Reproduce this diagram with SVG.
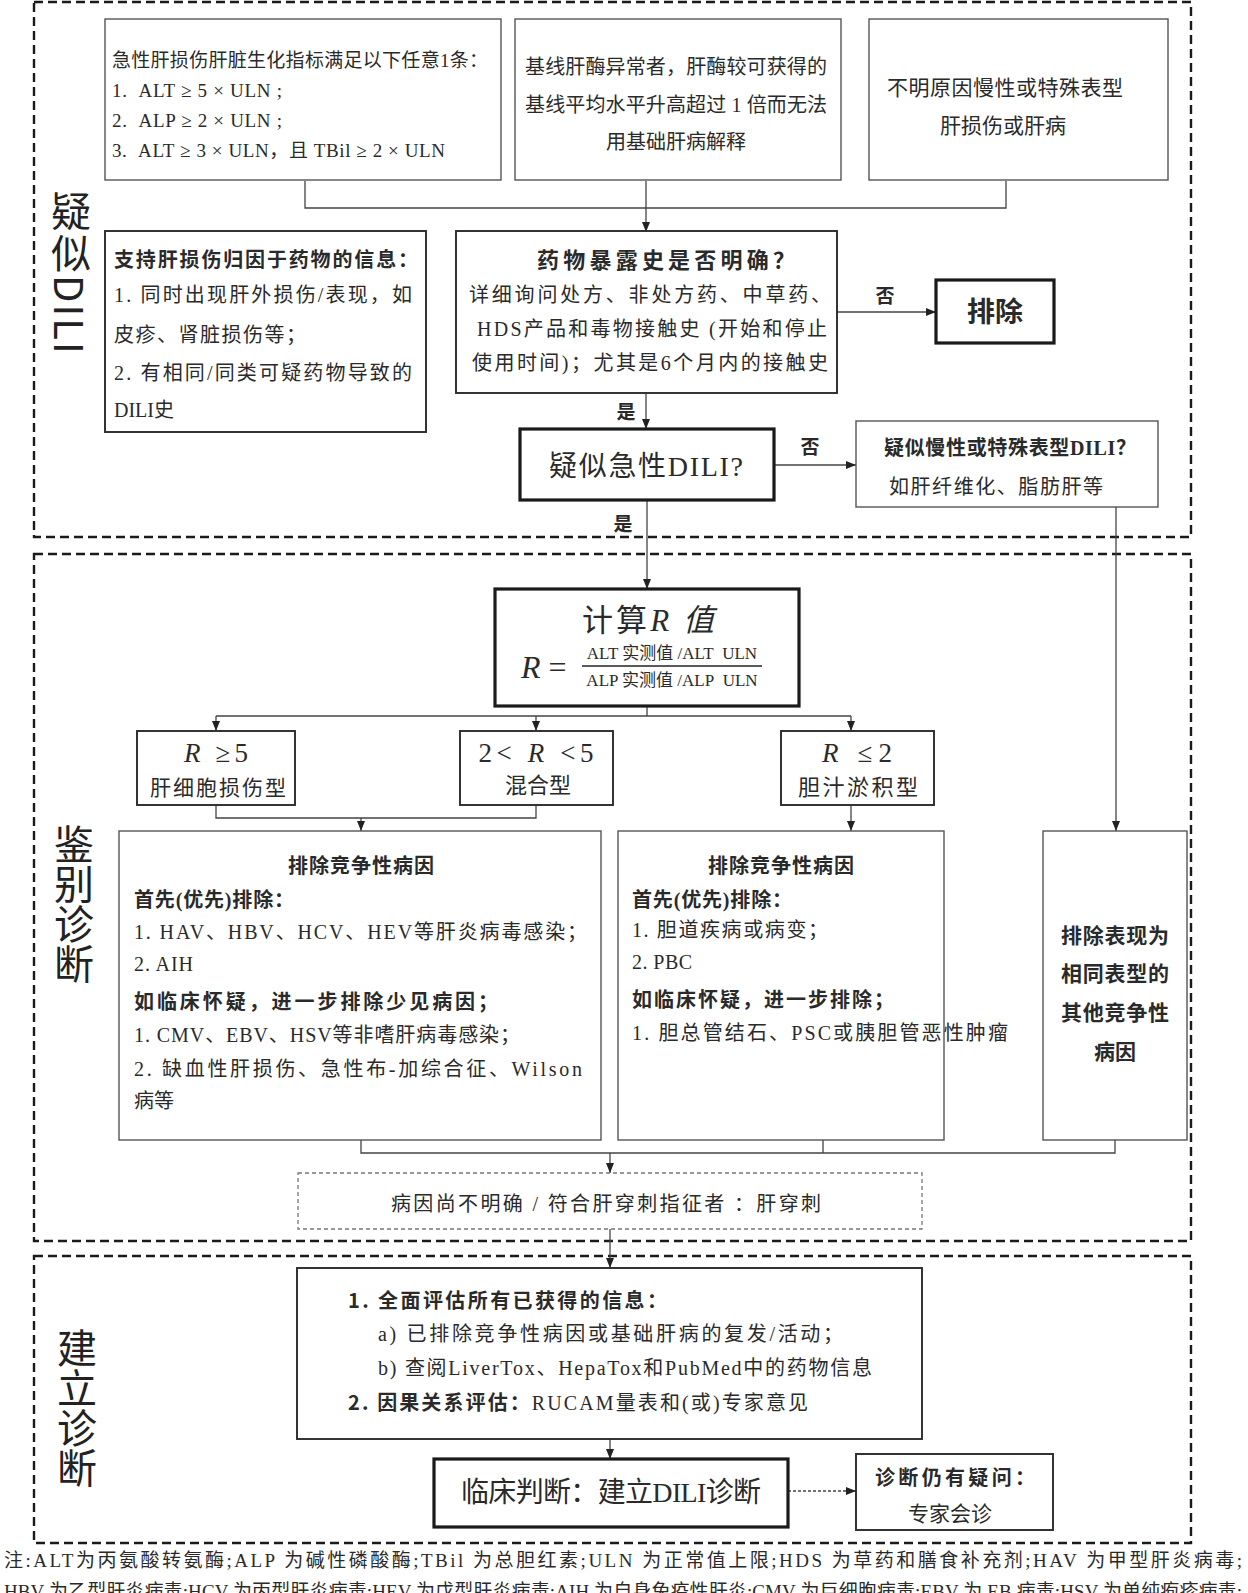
<svg xmlns="http://www.w3.org/2000/svg" width="1248" height="1593" viewBox="0 0 1248 1593" font-size="20">
<defs>
<style>
.sec{fill:none;stroke:#1a1a1a;stroke-width:2.4;stroke-dasharray:9 5}
.bx{fill:#fff;stroke:#555;stroke-width:1.4}
.bx2{fill:#fff;stroke:#2a2a2a;stroke-width:1.9}
.tk{fill:#fff;stroke:#1a1a1a;stroke-width:3.2}
.dbx{fill:#fff;stroke:#777;stroke-width:1.3;stroke-dasharray:4 3}
.ln{fill:none;stroke:#444;stroke-width:1.3}
.t{font-family:"Liberation Serif","Noto Sans CJK SC",serif;fill:#2a2a2a}
.s{font-family:"Noto Sans CJK SC","Liberation Sans",sans-serif}
.b{font-weight:bold}
.m{text-anchor:middle}
.i{font-style:italic}
.v{font-family:"Noto Sans CJK SC","Liberation Sans",sans-serif;font-size:40px;writing-mode:vertical-rl;fill:#222}
</style>
<marker id="ah" markerWidth="10" markerHeight="8" refX="10" refY="4" orient="auto" markerUnits="userSpaceOnUse">
<path d="M0,0 L10,4 L0,8 z" fill="#222"/>
</marker>
</defs>
<rect width="1248" height="1593" fill="#fff"/>

<g id="sections">
<rect class="sec" x="34" y="2" width="1157" height="535"/>
<rect class="sec" x="34" y="554" width="1157" height="687"/>
<rect class="sec" x="34" y="1256" width="1157" height="287"/>
<text class="v" x="71" y="191" letter-spacing="2">疑似DILI</text>
<text class="v" x="74" y="824">鉴别诊断</text>
<text class="v" x="77" y="1328">建立诊断</text>
</g>

<g id="connectors">
<path class="ln" d="M305,181 V208 H1006 V181"/>
<path class="ln" d="M646,181 V232" marker-end="url(#ah)"/>
<path class="ln" d="M837,312 H936" marker-end="url(#ah)"/>
<path class="ln" d="M646,393 V429" marker-end="url(#ah)"/>
<path class="ln" d="M774,465 H856" marker-end="url(#ah)"/>
<path class="ln" d="M647,500 V589" marker-end="url(#ah)"/>
<path class="ln" d="M1116,507 V831" marker-end="url(#ah)"/>
<path class="ln" d="M647,706 V716 M216,716 H851"/>
<path class="ln" d="M216,716 V731" marker-end="url(#ah)"/>
<path class="ln" d="M536,716 V731" marker-end="url(#ah)"/>
<path class="ln" d="M851,716 V731" marker-end="url(#ah)"/>
<path class="ln" d="M216,805 V818 H536 V805"/>
<path class="ln" d="M361,818 V831" marker-end="url(#ah)"/>
<path class="ln" d="M851,805 V831" marker-end="url(#ah)"/>
<path class="ln" d="M361,1140 V1153 H1115 V1140 M823,1140 V1153"/>
<path class="ln" d="M610,1153 V1173" marker-end="url(#ah)"/>
<path class="ln" d="M610,1229 V1268" marker-end="url(#ah)"/>
<path class="ln" d="M610,1439 V1459" marker-end="url(#ah)"/>
<path class="ln" d="M788,1491 H856" stroke-dasharray="3 2" marker-end="url(#ah)"/>
<text class="t b m" x="885" y="303" font-size="19">否</text>
<text class="t b m" x="626" y="419" font-size="19">是</text>
<text class="t b m" x="810" y="454" font-size="19">否</text>
<text class="t b m" x="623" y="531" font-size="19">是</text>
</g>

<g id="nodeA">
<rect class="bx" x="105" y="19" width="396" height="161"/>
<text class="t" x="112" y="67" font-size="19" textLength="376">急性肝损伤肝脏生化指标满足以下任意1条：</text>
<text class="t" x="112" y="97" font-size="19" textLength="170">1.&#160;&#160;ALT ≥ 5 × ULN ;</text>
<text class="t" x="112" y="127" font-size="19" textLength="170">2.&#160;&#160;ALP ≥ 2 × ULN ;</text>
<text class="t" x="112" y="157" font-size="19" textLength="333">3.&#160;&#160;ALT ≥ 3 × ULN，且 TBil ≥ 2 × ULN</text>
</g>

<g id="nodeB">
<rect class="bx" x="515" y="19" width="326" height="161"/>
<text class="t m" x="676" y="74" textLength="302">基线肝酶异常者，肝酶较可获得的</text>
<text class="t m" x="676" y="112" textLength="302">基线平均水平升高超过 1 倍而无法</text>
<text class="t m" x="676" y="149">用基础肝病解释</text>
</g>

<g id="nodeC">
<rect class="bx" x="869" y="19" width="299" height="161"/>
<text class="t m" x="1005" y="95" font-size="21" textLength="236">不明原因慢性或特殊表型</text>
<text class="t m" x="1003" y="133" font-size="21">肝损伤或肝病</text>
</g>

<g id="nodeD">
<rect class="bx2" x="105" y="231" width="321" height="201"/>
<text class="t b" x="114" y="267" textLength="304">支持肝损伤归因于药物的信息：</text>
<text class="t" x="114" y="302" textLength="298">1. 同时出现肝外损伤/表现，如</text>
<text class="t" x="114" y="342" textLength="192">皮疹、肾脏损伤等；</text>
<text class="t" x="114" y="380" textLength="298">2. 有相同/同类可疑药物导致的</text>
<text class="t" x="114" y="417">DILI史</text>
</g>

<g id="nodeE">
<rect class="bx2" x="456" y="231" width="381" height="162"/>
<text class="t b m" x="666" y="268" font-size="22" textLength="258">药物暴露史是否明确？</text>
<text class="t m" x="650" y="302" textLength="362">详细询问处方、非处方药、中草药、</text>
<text class="t m" x="652" y="336" textLength="350">HDS产品和毒物接触史 (开始和停止</text>
<text class="t m" x="650" y="370" textLength="356">使用时间)；尤其是6个月内的接触史</text>
</g>

<g id="nodeExclude">
<rect class="tk" x="936" y="280" width="118" height="63"/>
<text class="t b m" x="995" y="322" font-size="28">排除</text>
</g>

<g id="nodeAcute">
<rect class="tk" x="520" y="429" width="254" height="71"/>
<text class="t m" x="646" y="476" font-size="28" textLength="194">疑似急性DILI?</text>
</g>

<g id="nodeF">
<rect class="bx" x="856" y="421" width="302" height="86"/>
<text class="t b m" x="1010" y="455" font-size="20" textLength="252">疑似慢性或特殊表型DILI？</text>
<text class="t m" x="996" y="494" font-size="20" textLength="214">如肝纤维化、脂肪肝等</text>
</g>

<g id="nodeR">
<rect class="tk" x="495" y="589" width="304" height="117"/>
<text class="t m" x="648" y="631" font-size="31" textLength="132">计算<tspan class="i">R 值</tspan></text>
<text class="t" x="521" y="678" font-size="32"><tspan class="i">R</tspan> =</text>
<text class="t m" x="672" y="659" font-size="17">ALT 实测值 /ALT&#160;&#160;ULN</text>
<line x1="582" y1="666" x2="762" y2="666" stroke="#222" stroke-width="1.6"/>
<text class="t m" x="672" y="686" font-size="17">ALP 实测值 /ALP&#160;&#160;ULN</text>
</g>

<g id="nodeR1">
<rect class="bx2" x="137" y="731" width="158" height="74" stroke-width="2.4"/>
<text class="t m" x="216" y="762" font-size="27" textLength="64"><tspan class="i">R</tspan> ≥5</text>
<text class="t m" x="218" y="795" font-size="21" textLength="136">肝细胞损伤型</text>
</g>

<g id="nodeR2">
<rect class="bx2" x="460" y="731" width="153" height="74" stroke-width="2.4"/>
<text class="t m" x="536" y="762" font-size="27" textLength="115">2&lt; <tspan class="i">R</tspan> &lt;5</text>
<text class="t m" x="538" y="793" font-size="22">混合型</text>
</g>

<g id="nodeR3">
<rect class="bx2" x="781" y="731" width="153" height="74" stroke-width="2.4"/>
<text class="t m" x="857" y="762" font-size="27" textLength="70"><tspan class="i">R</tspan> ≤2</text>
<text class="t m" x="858" y="795" font-size="22" textLength="120">胆汁淤积型</text>
</g>

<g id="nodeG">
<rect class="bx" x="119" y="831" width="482" height="309"/>
<text class="t b m" x="361" y="873" textLength="146">排除竞争性病因</text>
<text class="t b" x="134" y="907" textLength="160">首先(优先)排除：</text>
<text class="t" x="134" y="939" textLength="453">1. HAV、HBV、HCV、HEV等肝炎病毒感染；</text>
<text class="t" x="134" y="971" textLength="59">2. AIH</text>
<text class="t b" x="134" y="1009" textLength="364">如临床怀疑，进一步排除少见病因；</text>
<text class="t" x="134" y="1042" textLength="386">1. CMV、EBV、HSV等非嗜肝病毒感染；</text>
<text class="t" x="134" y="1076" textLength="448">2. 缺血性肝损伤、急性布-加综合征、Wilson</text>
<text class="t" x="134" y="1108">病等</text>
</g>

<g id="nodeH">
<rect class="bx" x="618" y="831" width="326" height="309"/>
<text class="t b m" x="781" y="873" textLength="146">排除竞争性病因</text>
<text class="t b" x="632" y="907" textLength="160">首先(优先)排除：</text>
<text class="t" x="632" y="937" textLength="196">1. 胆道疾病或病变；</text>
<text class="t" x="632" y="969" textLength="60">2. PBC</text>
<text class="t b" x="632" y="1007" textLength="262">如临床怀疑，进一步排除；</text>
<text class="t" x="632" y="1040" textLength="376">1. 胆总管结石、PSC或胰胆管恶性肿瘤</text>
</g>

<g id="nodeI">
<rect class="bx" x="1043" y="831" width="144" height="309"/>
<text class="t b m" x="1115" y="943" font-size="21" textLength="108">排除表现为</text>
<text class="t b m" x="1115" y="981" font-size="21" textLength="108">相同表型的</text>
<text class="t b m" x="1115" y="1020" font-size="21" textLength="108">其他竞争性</text>
<text class="t b m" x="1115" y="1059" font-size="21">病因</text>
</g>

<g id="nodeJ">
<rect class="dbx" x="298" y="1173" width="624" height="56"/>
<text class="t m" x="606" y="1211" textLength="430">病因尚不明确 / 符合肝穿刺指征者 ：肝穿刺</text>
</g>

<g id="nodeK">
<rect class="bx2" x="297" y="1268" width="625" height="171"/>
<text class="t s b" x="348" y="1308" textLength="319">1. 全面评估所有已获得的信息：</text>
<text class="t" x="378" y="1341" textLength="465">a) 已排除竞争性病因或基础肝病的复发/活动；</text>
<text class="t" x="378" y="1375" textLength="494">b) 查阅LiverTox、HepaTox和PubMed中的药物信息</text>
<text class="t" x="348" y="1410" textLength="460"><tspan class="s b">2. 因果关系评估：</tspan>RUCAM量表和(或)专家意见</text>
</g>

<g id="nodeL">
<rect class="tk" x="434" y="1459" width="354" height="68"/>
<text class="t m" x="611" y="1502" font-size="28" textLength="300">临床判断：建立DILI诊断</text>
</g>

<g id="nodeM">
<rect class="bx2" x="856" y="1454" width="197" height="76" stroke-width="2.2"/>
<text class="t b" x="875" y="1485" font-size="20" textLength="160">诊断仍有疑问：</text>
<text class="t m" x="950" y="1521" font-size="21">专家会诊</text>
</g>

<g id="note">
<text class="t" x="4" y="1567" font-size="19" textLength="1238">注:ALT为丙氨酸转氨酶;ALP 为碱性磷酸酶;TBil 为总胆红素;ULN 为正常值上限;HDS 为草药和膳食补充剂;HAV 为甲型肝炎病毒;</text>
<text class="t" x="4" y="1598" font-size="19" textLength="1238">HBV 为乙型肝炎病毒;HCV 为丙型肝炎病毒;HEV 为戊型肝炎病毒;AIH 为自身免疫性肝炎;CMV 为巨细胞病毒;EBV 为 EB 病毒;HSV 为单纯疱疹病毒;</text>
</g>
</svg>
